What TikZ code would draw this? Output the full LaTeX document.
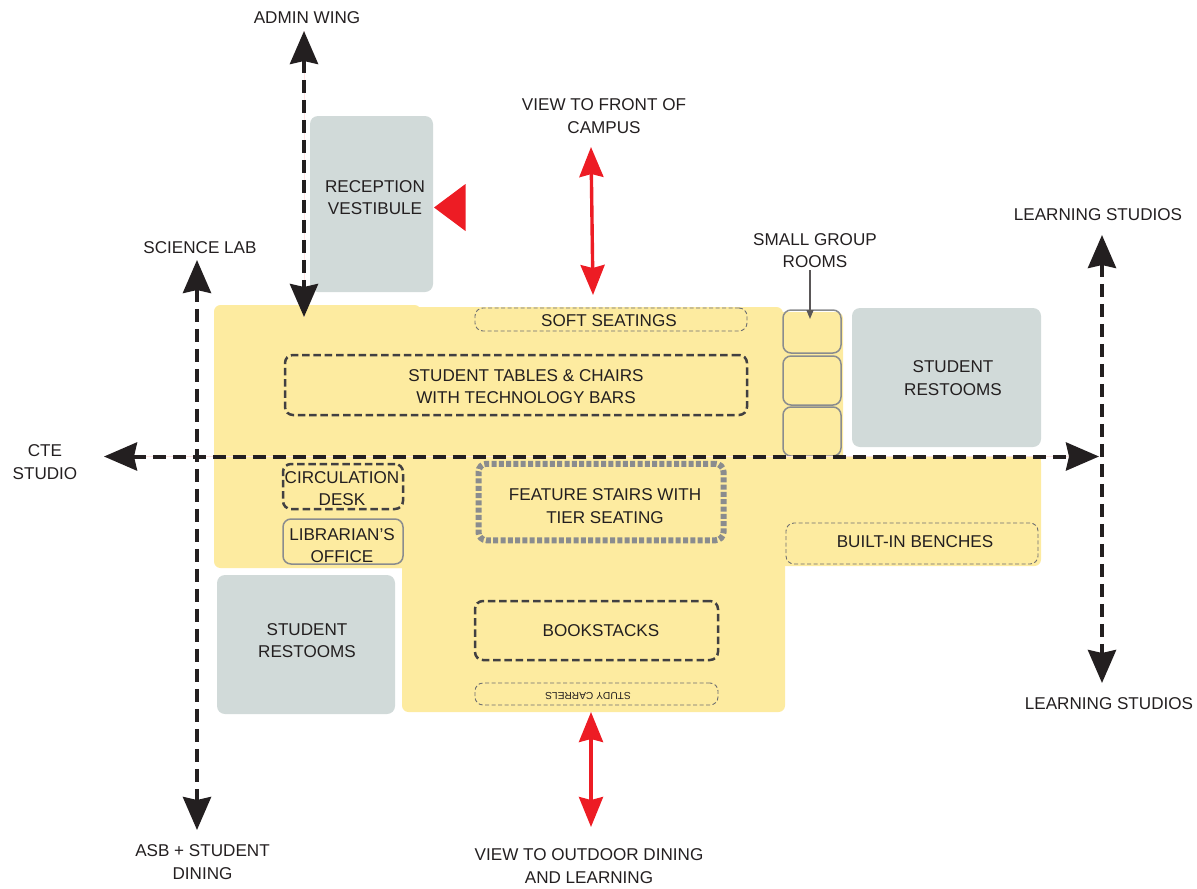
\documentclass[tikz,border=0pt]{standalone}
\usepackage{fontspec}
\setmainfont{Liberation Sans}
\usetikzlibrary{arrows.meta}
\definecolor{zone}{HTML}{FDEBA0}
\definecolor{slab}{HTML}{D1DAD9}
\definecolor{ink}{HTML}{231F20}
\definecolor{dashink}{HTML}{414042}
\definecolor{thinink}{HTML}{6D6E71}
\definecolor{rim}{HTML}{8A8C8E}
\definecolor{hotred}{HTML}{ED1C24}
\tikzset{
  lbl/.style={font=\fontsize{17.1}{22.5}\selectfont,text=ink,align=center,inner sep=0pt},
  room/.style={rounded corners=8pt,minimum width=#1,outer sep=0pt,inner sep=0pt},
  slabroom/.style={room=#1,fill=slab},
  thickdash/.style={room=#1,draw=dashink,line width=2.5pt,dash pattern=on 7.5pt off 3.8pt},
  thindash/.style={room=#1,draw=thinink,line width=0.9pt,dash pattern=on 4pt off 2.5pt},
  solidroom/.style={room=#1,draw=rim,line width=1.5pt},
  dotroom/.style={room=#1,draw=rim,line width=6pt,dash pattern=on 5pt off 2.3pt},
  route/.style={draw=ink,line width=4pt,dash pattern=on 13pt off 7pt,
    {Stealth[length=33pt,width=28pt,inset=3pt]}-{Stealth[length=33pt,width=28pt,inset=3pt]}},
  hair/.style={draw=pink!45,line width=0.5pt},
  viewline/.style={draw=hotred,line width=3.4pt,
    {Stealth[length=30pt,width=24pt,inset=3pt]}-{Stealth[length=30pt,width=24pt,inset=3pt]}},
  leader/.style={draw=ink!75,line width=1.2pt,-{Stealth[length=9pt,width=7pt,inset=0pt]}},
  plate/.style={fill=zone,rounded corners=6.5pt},
}
\begin{document}
\begin{tikzpicture}[x=1pt,y=-1pt]
\useasboundingbox (0,0) rectangle (1197,889);
% yellow floor plate, built from overlapping parts
\path[plate] (214,305) rectangle (421,568);
\path[plate] (300,307) rectangle (783,568);
\path[plate] (402,400) rectangle (785,712);
\path[plate] (700,312) rectangle (843,500);
\path[plate] (700,456) rectangle (1041,566);
\fill[zone] (830,456) rectangle (1041,500);
% grey rooms
\node[slabroom=123pt,minimum height=176pt] (vest) at (371.5,204) {};
\node[slabroom=189pt,minimum height=139pt] (restE) at (946.5,377.5) {};
\node[slabroom=178pt,minimum height=139pt] (restW) at (306,644.5) {};
% zones
\node[thindash=272pt,minimum height=23pt] (soft) at (611,319.5) {};
\node[thickdash=462pt,minimum height=60pt] (tables) at (516,385) {};
\node[thickdash=120pt,minimum height=45pt] (circ) at (343,486.5) {};
\node[solidroom=120pt,minimum height=45pt] (lib) at (343,541.5) {};
\node[dotroom=245pt,minimum height=76.5pt] (stairs) at (601,502) {};
\node[thindash=252pt,minimum height=41pt] (bench) at (912,543.5) {};
\node[thickdash=243pt,minimum height=59pt] (books) at (596.5,630.5) {};
\node[thindash=243pt,minimum height=22pt] (carrel) at (596.5,694) {};
% small group rooms
\node[solidroom=58pt,minimum height=43pt] (sg1) at (812,331.5) {};
\node[solidroom=58pt,minimum height=49pt] (sg2) at (812,380.5) {};
\node[solidroom=58pt,minimum height=49pt] (sg3) at (812,431.5) {};
% room texts
\node[lbl] (vestT) at (375,197.5) {RECEPTION\\VESTIBULE};
\node[lbl] (restET) at (953,378) {STUDENT\\RESTOOMS};
\node[lbl] (restWT) at (307,640.5) {STUDENT\\RESTOOMS};
\node[lbl] (softT) at (609,321) {SOFT SEATINGS};
\node[lbl] (tablesT) at (526,386.5) {STUDENT TABLES \& CHAIRS\\WITH TECHNOLOGY BARS};
\node[lbl] (circT) at (342,488.5) {CIRCULATION\\DESK};
\node[lbl] (libT) at (342,545.5) {LIBRARIAN’S\\OFFICE};
\node[lbl] (stairsT) at (605,506) {FEATURE STAIRS WITH\\TIER SEATING};
\node[lbl] (benchT) at (915,541.5) {BUILT-IN BENCHES};
\node[lbl] (booksT) at (601,631) {BOOKSTACKS};
\node[font=\fontsize{10.2}{12}\selectfont,text=ink,rotate=180,inner sep=0pt] (carrelT) at (588,696) {STUDY CARRELS};
% outer labels
\node[lbl] (admin) at (307,18) {ADMIN WING};
\node[lbl] (front) at (604,116) {VIEW TO FRONT OF\\CAMPUS};
\node[lbl] (sci) at (200,248) {SCIENCE LAB};
\node[lbl] (cte) at (45,462) {CTE\\STUDIO};
\node[lbl] (ls1) at (1098,215) {LEARNING STUDIOS};
\node[lbl] (ls2) at (1109,704) {LEARNING STUDIOS};
\node[lbl] (small) at (815,250.5) {SMALL GROUP\\ROOMS};
\node[lbl] (asb) at (202.5,862) {ASB + STUDENT\\DINING};
\node[lbl] (outdoor) at (589,866) {VIEW TO OUTDOOR DINING\\AND LEARNING};
% route end points
\coordinate (aT) at (304,31); \coordinate (aB) at (304,317);
\coordinate (sT) at (197,260); \coordinate (sB) at (197,830);
\coordinate (cL) at (104,456.5); \coordinate (cR) at (1099,456.5);
\coordinate (lT) at (1102,235); \coordinate (lB) at (1102,683);
\coordinate (fT) at (591,147); \coordinate (fB) at (593,295);
\coordinate (oT) at (591,712); \coordinate (oB) at (591,827);
\coordinate (ldS) at (810,270); \coordinate (ldE) at (810,319);
\draw[hair] (cL) -- (cR);
\draw[hair] (aT) -- (aB);
\draw[route] (aT) -- (aB);
\draw[route] (sT) -- (sB);
\draw[route] (cL) -- (cR);
\draw[route] (lT) -- (lB);
\draw[viewline] (fT) -- (fB);
\draw[viewline] (oT) -- (oB);
\draw[leader] (ldS) -- (ldE);
% entry marker
\fill[hotred] (434,207.5) -- (465.5,184) -- (465.5,231) -- cycle;
\end{tikzpicture}
\end{document}
